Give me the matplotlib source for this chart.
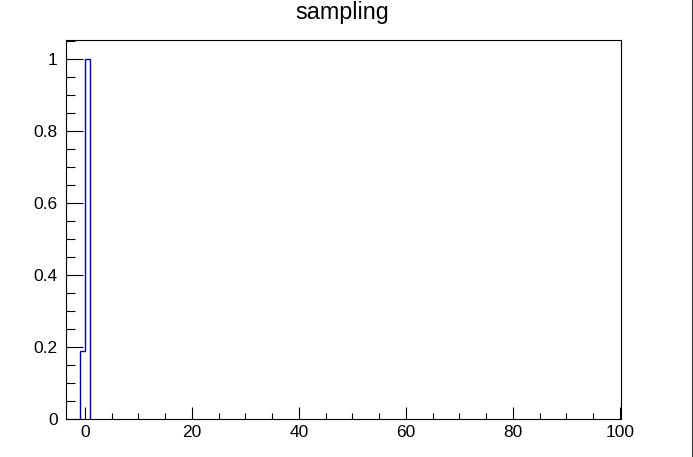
import matplotlib
matplotlib.use("Agg")
import matplotlib.pyplot as plt
from matplotlib.lines import Line2D
from matplotlib.ticker import MultipleLocator

# histogram contents (bin edges and counts)
edges = [-1, 0, 1]
counts = [0.19, 1.0]

plt.rcParams['font.family'] = ['Liberation Sans', 'DejaVu Sans']

fig = plt.figure(figsize=(6.93, 4.57), dpi=100)
ax = fig.add_axes([66/693, 38/457, 555/693, 379/457])

ax.stairs(counts, edges, baseline=0, color='#000099', linewidth=1.0)

ax.set_xlim(-3.55, 100.2)
ax.set_ylim(0, 1.053)

ax.xaxis.set_major_locator(MultipleLocator(20))
ax.xaxis.set_minor_locator(MultipleLocator(5))
ax.yaxis.set_major_locator(MultipleLocator(0.2))
ax.yaxis.set_minor_locator(MultipleLocator(0.05))
ax.yaxis.set_major_formatter(plt.FuncFormatter(lambda v, p: '%g' % round(v, 2)))

ax.tick_params(axis='both', which='both', direction='in', width=0.8, labelsize=12.5)
ax.tick_params(axis='x', which='major', length=8.6, pad=4)
ax.tick_params(axis='x', which='minor', length=4.3)
ax.tick_params(axis='y', which='major', length=12, pad=6)
ax.tick_params(axis='y', which='minor', length=6.5)

for s in ax.spines.values():
    s.set_linewidth(0.8)

fig.text(0.4935, 1 - 12.5/457, 'sampling', ha='center', va='center', fontsize=16.8)

# canvas border on the right
fig.add_artist(Line2D([691.5/693, 691.5/693], [0, 1], color='#333333', linewidth=0.8))

fig.savefig('out.png', dpi=100)
